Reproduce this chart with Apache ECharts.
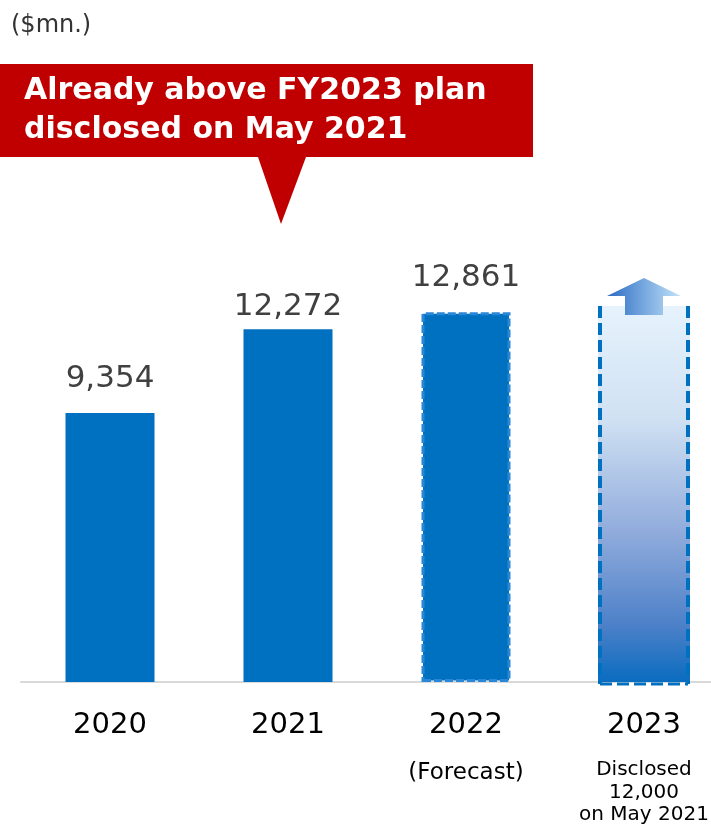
<!DOCTYPE html>
<html>
<head>
<meta charset="utf-8">
<script src="https://cdn.jsdelivr.net/npm/echarts@6/dist/echarts.min.js"></script>
<style>
  html, body { margin: 0; padding: 0; background: #fff; }
  #chart { width: 711px; height: 828px; }
</style>
</head>
<body>
<div id="chart"></div>
<script>
// ---- data ----
const categories = ['2020', '2021', '2022', '2023'];
const subLabels = ['', '', '(Forecast)', 'Disclosed\n12,000\non May 2021'];
const resultValues = [9354, 12272, 12861, null];      // actual / forecast bars
const planValues = [null, null, null, 13080];          // FY2023 plan bar (height)
const unitLabel = '($mn.)';
const calloutLines = ['Already above FY2023 plan', 'disclosed on May 2021'];

// ---- styles (kept separate from data) ----
const FONT = 'DejaVu Sans, Verdana, sans-serif';
const BLUE = '#0070c0';
const labelGaps = [19, 7, 19, 0];

const chart = echarts.init(document.getElementById('chart'), null, { renderer: 'canvas' });

const barData = resultValues.map((v, i) => {
  if (v == null) return null;
  const item = {
    value: v,
    label: { distance: labelGaps[i] },
    itemStyle: { color: BLUE }
  };
  if (i === 2) {
    item.itemStyle = {
      color: BLUE,
      borderColor: '#2a86d6',
      borderWidth: 3,
      borderType: [8, 3]
    };
  }
  return item;
});

const planData = planValues.map((v, i) => (v == null ? null : [i, v]));

function renderPlan(params, api) {
  const idx = api.value(0);
  const val = api.value(1);
  const top = api.coord([idx, val]);
  const base = api.coord([idx, 0]);
  const half = 46;
  const cx = top[0];
  const x0 = cx - half, x1 = cx + half;
  const yT = top[1], yB = base[1];
  const dash = { stroke: BLUE, lineWidth: 4, lineDash: [12, 5], fill: null };
  return {
    type: 'group',
    children: [
      {
        type: 'rect',
        shape: { x: x0, y: yT, width: x1 - x0, height: yB - yT },
        style: {
          fill: new echarts.graphic.LinearGradient(0, 0, 0, 1, [
            { offset: 0, color: '#e6f3fd' },
            { offset: 0.3, color: '#d0e1f3' },
            { offset: 0.6, color: '#91acdc' },
            { offset: 0.85, color: '#4c80c8' },
            { offset: 1, color: '#0a6cc0' }
          ])
        }
      },
      { type: 'polyline', shape: { points: [[x0 + 2, yT], [x0 + 2, yB + 2]] }, style: dash },
      { type: 'polyline', shape: { points: [[x1 - 2, yT], [x1 - 2, yB + 2]] }, style: dash },
      { type: 'polyline', shape: { points: [[x0 + 2, yB + 2], [x1 - 2, yB + 2]] }, style: { stroke: BLUE, lineWidth: 3, lineDash: [12, 5], fill: null } },
      {
        type: 'polygon',
        shape: {
          points: [
            [cx, yT - 28], [cx + 37, yT - 10], [cx + 19, yT - 10], [cx + 19, yT + 9],
            [cx - 19, yT + 9], [cx - 19, yT - 10], [cx - 37, yT - 10]
          ]
        },
        style: {
          fill: new echarts.graphic.LinearGradient(0, 0, 1, 0, [
            { offset: 0, color: '#2b6cc3' },
            { offset: 1, color: '#c3e3fa' }
          ])
        }
      }
    ]
  };
}

const option = {
  backgroundColor: '#ffffff',
  animation: false,
  grid: { left: 21, width: 712, top: 107, height: 575, containLabel: false, outerBoundsMode: 'none' },
  xAxis: {
    type: 'category',
    data: categories,
    axisLine: { show: true, lineStyle: { color: '#d9d9d9', width: 2 } },
    axisTick: { show: false },
    axisLabel: {
      margin: 9,
      interval: 0,
      hideOverlap: false,
      formatter: (v, i) => {
        let s = '{y|' + v + '}';
        if (subLabels[i]) {
          const cls = i === 2 ? 'f' : 's';
          s += '\n' + subLabels[i].split('\n').map(t => '{' + cls + '|' + t + '}').join('\n');
        }
        return s;
      },
      rich: {
        y: { fontFamily: FONT, fontSize: 29, color: '#000000', lineHeight: 68 },
        f: { fontFamily: FONT, fontSize: 23, color: '#000000', lineHeight: 22, padding: [6, 0, 0, 0] },
        s: { fontFamily: FONT, fontSize: 20, color: '#000000', lineHeight: 22.5 }
      }
    }
  },
  yAxis: {
    type: 'value', min: 0, max: 20000, show: false,
    splitLine: { show: false }
  },
  series: [
    {
      type: 'bar',
      data: barData,
      barWidth: 89,
      barGap: '-100%',
      label: {
        show: true,
        position: 'top',
        fontFamily: FONT,
        fontSize: 31,
        color: '#404040',
        formatter: p => p.value.toLocaleString('en-US')
      }
    },
    {
      type: 'custom',
      data: planData,
      renderItem: renderPlan,
      encode: { x: 0, y: 1 },
      z: 3
    }
  ],
  graphic: [
    {
      type: 'text', left: 11, top: 14,
      style: { text: unitLabel, font: '24px ' + FONT, fill: '#333333' }
    },
    {
      type: 'polygon',
      shape: { points: [[0, 64], [533, 64], [533, 157], [306, 157], [281, 224], [258, 157], [0, 157]] },
      style: { fill: '#c00000' }
    },
    {
      type: 'text', left: 24, top: 72,
      style: {
        text: calloutLines.join('\n'),
        font: 'bold 30px ' + FONT,
        fill: '#ffffff',
        lineHeight: 39
      }
    }
  ]
};

chart.setOption(option);
</script>
</body>
</html>
